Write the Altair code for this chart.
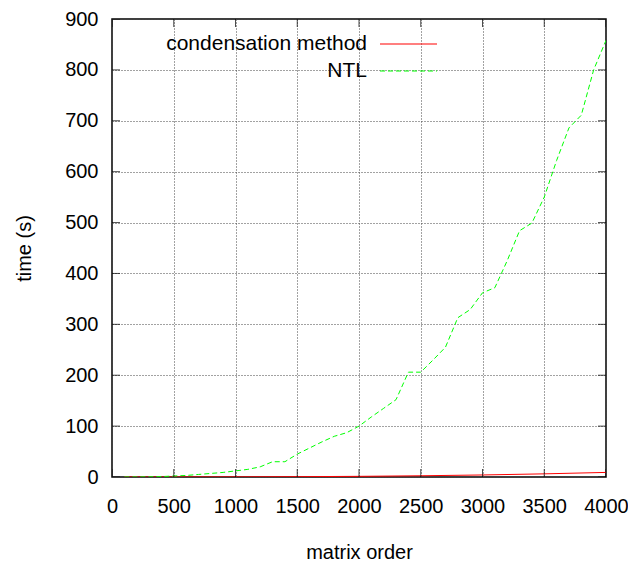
import altair as alt
import pandas as pd

# ---- data ----
ntl_x = [100, 200, 300, 400, 500, 600, 700, 800, 900, 1000,
         1100, 1200, 1300, 1400, 1500, 1600, 1700, 1800, 1900, 2000,
         2100, 2200, 2300, 2400, 2500, 2600, 2700, 2800, 2900, 3000,
         3100, 3200, 3300, 3400, 3500, 3600, 3700, 3800, 3900, 4000]
ntl_y = [0.0, 0.1, 0.3, 0.8, 2, 3, 5, 7, 9, 12,
         15, 20, 30, 30, 45, 57, 69, 80, 87, 100,
         118, 135, 152, 206, 206, 230, 255, 313, 329, 362,
         372, 425, 484, 499, 550, 622, 686, 711, 800, 858]

cond_x = [100, 500, 1000, 1500, 2000, 2500, 3000, 3500, 4000]
cond_y = [0.0, 0.05, 0.2, 0.6, 1.3, 2.4, 4.0, 6.2, 9.0]

series_names = ["condensation method", "NTL"]
series_colors = ["#ff0000", "#00ff00"]
ntl_dash = [5, 3]

x_ticks = [0, 500, 1000, 1500, 2000, 2500, 3000, 3500, 4000]
y_ticks = [0, 100, 200, 300, 400, 500, 600, 700, 800, 900]

FONT = "Liberation Sans"
W, H = 494, 458

df_cond = pd.DataFrame({"x": cond_x, "y": cond_y, "series": series_names[0]})
df_ntl = pd.DataFrame({"x": ntl_x, "y": ntl_y, "series": series_names[1]})

xscale = alt.Scale(domain=[0, 4000], nice=False, zero=False)
yscale = alt.Scale(domain=[0, 900], nice=False, zero=False)

xenc = alt.X("x:Q", scale=xscale,
             axis=alt.Axis(title="matrix order", values=x_ticks, format="d",
                           grid=True, tickSize=0, labelPadding=19,
                           labelOverlap=False, labelFlush=False,
                           titlePadding=26))
yenc = alt.Y("y:Q", scale=yscale,
             axis=alt.Axis(title="time (s)", values=y_ticks, format="d",
                           grid=True, tickSize=0, labelPadding=14,
                           labelOverlap=False,
                           titlePadding=30))


def legend_for(y, dash=None):
    kw = dict(title=None, orient="none", legendX=267, legendY=y,
              symbolType="stroke", symbolSize=3249, symbolStrokeWidth=1.2,
              labelAlign="right", labelOffset={"expr": "-71"},
              labelFontSize=21, labelFont=FONT, labelColor="black",
              padding=0, labelLimit=400)
    if dash is not None:
        kw["symbolDash"] = dash
    return alt.Legend(**kw)


cond_line = alt.Chart(df_cond).mark_line(strokeWidth=1, clip=True).encode(
    x=xenc, y=yenc,
    color=alt.Color("series:N",
                    scale=alt.Scale(domain=[series_names[0]], range=[series_colors[0]]),
                    legend=legend_for(-4.5)),
)
ntl_line = alt.Chart(df_ntl).mark_line(strokeWidth=1, clip=True,
                                       strokeDash=ntl_dash).encode(
    x=xenc, y=yenc,
    color=alt.Color("series:N",
                    scale=alt.Scale(domain=[series_names[1]], range=[series_colors[1]]),
                    legend=legend_for(22.5, ntl_dash)),
)

xt = pd.DataFrame({"v": x_ticks})
yt = pd.DataFrame({"v": y_ticks})

bottom_ticks = alt.Chart(xt).mark_tick(orient="vertical", size=16, thickness=1,
                                       color="black", clip=True).encode(
    x=alt.X("v:Q", scale=xscale), y=alt.value(H))
top_ticks = alt.Chart(xt).mark_tick(orient="vertical", size=16, thickness=1,
                                    color="black", clip=True).encode(
    x=alt.X("v:Q", scale=xscale), y=alt.value(0))
left_ticks = alt.Chart(yt).mark_tick(orient="horizontal", size=16, thickness=1,
                                     color="black", clip=True).encode(
    y=alt.Y("v:Q", scale=yscale), x=alt.value(0))
right_ticks = alt.Chart(yt).mark_tick(orient="horizontal", size=16, thickness=1,
                                      color="black", clip=True).encode(
    y=alt.Y("v:Q", scale=yscale), x=alt.value(W))

chart = alt.layer(cond_line, ntl_line, bottom_ticks, top_ticks, left_ticks,
                  right_ticks).resolve_scale(color="independent").resolve_legend(
    color="independent"
).properties(
    width=W, height=H,
    background="white",
    autosize=alt.AutoSizeParams(type="none"),
    padding={"left": 104, "top": 11, "right": 22, "bottom": 84},
).configure_view(
    stroke="black", strokeWidth=1.5
).configure_axis(
    domain=False,
    gridColor="#444444", gridDash=[1, 2], gridWidth=1, gridOpacity=1,
    labelFont=FONT, labelFontSize=20, labelColor="black",
    titleFont=FONT, titleFontSize=20, titleFontWeight="normal", titleColor="black",
)

chart.save("out.html", embed_options={"renderer": "svg", "actions": False})
